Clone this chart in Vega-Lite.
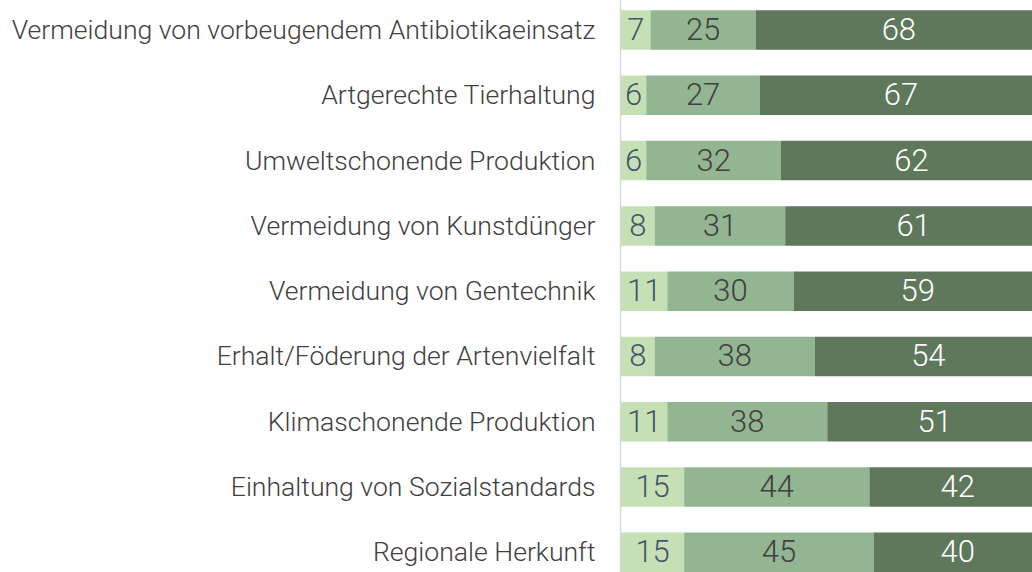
{
  "$schema": "https://vega.github.io/schema/vega-lite/v6.json",
  "autosize": {"type": "none"},
  "padding": {"left": 620, "top": 0, "right": 0, "bottom": 0},
  "width": 412,
  "height": 572,
  "background": "#ffffff",
  "config": {"view": {"stroke": null}, "font": "Roboto"},
  "data": {
    "values": [
      {"category": "Vermeidung von vorbeugendem Antibiotikaeinsatz", "segment": "s1", "segorder": 1, "value": 7},
      {"category": "Vermeidung von vorbeugendem Antibiotikaeinsatz", "segment": "s2", "segorder": 2, "value": 25},
      {"category": "Vermeidung von vorbeugendem Antibiotikaeinsatz", "segment": "s3", "segorder": 3, "value": 68},
      {"category": "Artgerechte Tierhaltung", "segment": "s1", "segorder": 1, "value": 6},
      {"category": "Artgerechte Tierhaltung", "segment": "s2", "segorder": 2, "value": 27},
      {"category": "Artgerechte Tierhaltung", "segment": "s3", "segorder": 3, "value": 67},
      {"category": "Umweltschonende Produktion", "segment": "s1", "segorder": 1, "value": 6},
      {"category": "Umweltschonende Produktion", "segment": "s2", "segorder": 2, "value": 32},
      {"category": "Umweltschonende Produktion", "segment": "s3", "segorder": 3, "value": 62},
      {"category": "Vermeidung von Kunstdünger", "segment": "s1", "segorder": 1, "value": 8},
      {"category": "Vermeidung von Kunstdünger", "segment": "s2", "segorder": 2, "value": 31},
      {"category": "Vermeidung von Kunstdünger", "segment": "s3", "segorder": 3, "value": 61},
      {"category": "Vermeidung von Gentechnik", "segment": "s1", "segorder": 1, "value": 11},
      {"category": "Vermeidung von Gentechnik", "segment": "s2", "segorder": 2, "value": 30},
      {"category": "Vermeidung von Gentechnik", "segment": "s3", "segorder": 3, "value": 59},
      {"category": "Erhalt/Föderung der Artenvielfalt", "segment": "s1", "segorder": 1, "value": 8},
      {"category": "Erhalt/Föderung der Artenvielfalt", "segment": "s2", "segorder": 2, "value": 38},
      {"category": "Erhalt/Föderung der Artenvielfalt", "segment": "s3", "segorder": 3, "value": 54},
      {"category": "Klimaschonende Produktion", "segment": "s1", "segorder": 1, "value": 11},
      {"category": "Klimaschonende Produktion", "segment": "s2", "segorder": 2, "value": 38},
      {"category": "Klimaschonende Produktion", "segment": "s3", "segorder": 3, "value": 51},
      {"category": "Einhaltung von Sozialstandards", "segment": "s1", "segorder": 1, "value": 15},
      {"category": "Einhaltung von Sozialstandards", "segment": "s2", "segorder": 2, "value": 44},
      {"category": "Einhaltung von Sozialstandards", "segment": "s3", "segorder": 3, "value": 42},
      {"category": "Regionale Herkunft", "segment": "s1", "segorder": 1, "value": 15},
      {"category": "Regionale Herkunft", "segment": "s2", "segorder": 2, "value": 45},
      {"category": "Regionale Herkunft", "segment": "s3", "segorder": 3, "value": 40}
    ]
  },
  "encoding": {
    "y": {
      "field": "category",
      "type": "nominal",
      "sort": null,
      "scale": {"paddingInner": 0.395, "paddingOuter": 0.079, "align": 1},
      "axis": {
        "title": null,
        "domain": true,
        "domainColor": "#d9d9d9",
        "domainWidth": 1.5,
        "ticks": false,
        "labelPadding": 25,
        "labelFont": "Roboto",
        "labelFontSize": 26.6,
        "labelFontWeight": 300,
        "labelColor": "#404040",
        "labelLimit": 700,
        "labelOffset": 1
      }
    }
  },
  "layer": [
    {
      "mark": {"type": "bar", "clip": true},
      "encoding": {
        "x": {
          "field": "value",
          "type": "quantitative",
          "stack": "zero",
          "scale": {"domain": [0, 100], "range": [1, 422], "nice": false, "zero": true},
          "axis": null
        },
        "color": {
          "field": "segment",
          "type": "nominal",
          "scale": {"domain": ["s1", "s2", "s3"], "range": ["#c5e0b4", "#93b592", "#5f785c"]},
          "legend": null
        },
        "order": {"field": "segorder", "type": "quantitative"}
      }
    },
    {
      "transform": [
        {"stack": "value", "groupby": ["category"], "sort": [{"field": "segorder", "order": "ascending"}], "as": ["v0", "v1"]},
        {"fold": ["v0", "v1"], "as": ["edge", "pos"]}
      ],
      "mark": {"type": "text", "font": "Roboto", "fontSize": 31, "fontWeight": 300, "align": "center", "baseline": "middle", "dy": 1},
      "encoding": {
        "x": {
          "aggregate": "mean",
          "field": "pos",
          "type": "quantitative",
          "scale": {"domain": [0, 100], "range": [1, 422], "nice": false, "zero": true},
          "axis": null
        },
        "text": {"aggregate": "max", "field": "value", "type": "quantitative"},
        "color": {
          "field": "segment",
          "type": "nominal",
          "scale": {"domain": ["s1", "s2", "s3"], "range": ["#44546a", "#404040", "#ffffff"]},
          "legend": null
        }
      }
    }
  ],
  "resolve": {"scale": {"color": "independent"}}
}
